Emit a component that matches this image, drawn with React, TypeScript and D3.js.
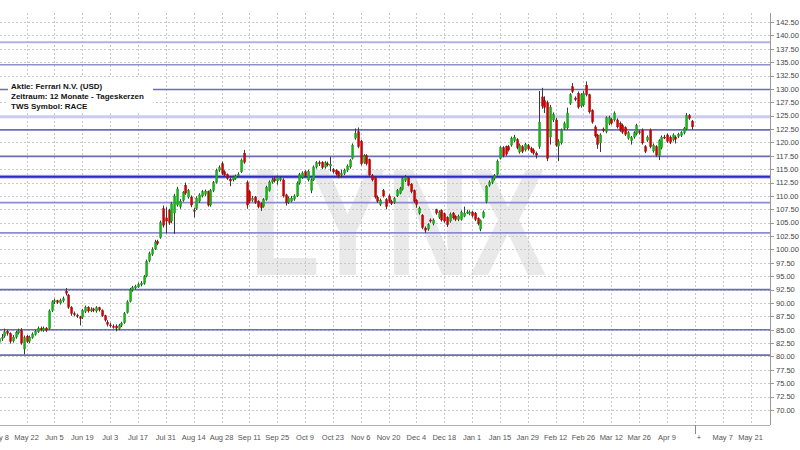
import React from 'react';
import * as d3 from 'd3';

const W = 800;
const H = 450;

// Daily candles (weekday index 0 = May 8, 2017)
const opens = [
  82.6, 83.3, 83.8, 84.7, 84.3, 82.9, 83.6, 84.4, 84.9, 81.4,
  83.8, 82.8, 83.5, 84.1, 84.6, 85.3, 84.9, 85.3, 85.2, 88.6,
  90.2, 90.4, 90.0, 90.4, 92.2, 91.5, 89.2, 88.0, 87.7, 87.4,
  87.3, 88.4, 89.2, 88.5, 88.9, 88.5, 89.1, 88.6, 87.6, 86.4,
  85.9, 85.6, 85.7, 85.2, 85.8, 86.3, 88.2, 90.3, 92.4, 92.8,
  93.0, 93.4, 93.6, 95.0, 97.9, 99.1, 100.1, 101.5, 102.2, 107.6,
  105.9, 107.3, 105.3, 106.8, 108.3, 108.0, 109.2, 112.0, 109.8, 109.8,
  107.3, 107.6, 109.0, 110.0, 110.3, 110.8, 108.3, 111.0, 112.5, 114.8,
  116.0, 114.5, 114.0, 113.1, 113.0, 113.2, 113.8, 114.5, 118.0, 112.5,
  110.8, 109.2, 109.8, 109.0, 108.6, 108.0, 109.3, 111.0, 112.6, 113.2,
  112.8, 113.0, 113.0, 110.2, 108.8, 109.0, 109.4, 110.0, 112.4, 113.5,
  114.5, 113.0, 111.0, 113.0, 115.4, 116.2, 116.3, 115.4, 116.0, 115.6,
  114.9, 114.8, 114.5, 113.9, 114.2, 114.8, 115.4, 117.0, 120.8, 122.0,
  120.2, 116.3, 117.5, 116.8, 113.8, 113.4, 109.8, 108.4, 111.0, 109.3,
  110.0, 109.0, 108.8, 110.0, 110.5, 111.2, 112.9, 113.4, 112.2, 111.0,
  109.2, 106.8, 106.4, 104.0, 103.8, 105.5, 104.8, 107.4, 106.0, 107.3,
  106.7, 106.0, 105.3, 106.8, 106.2, 105.6, 105.6, 106.2, 106.9, 106.7,
  107.0, 106.8, 105.8, 103.8, 106.0, 108.9, 112.0, 112.5, 113.2, 114.0,
  117.0, 119.0, 119.2, 119.2, 119.5, 120.3, 120.5, 118.2, 119.2, 118.6,
  119.4, 118.9, 118.6, 118.0, 119.2, 128.5, 127.8, 127.4, 121.0, 124.2,
  124.2, 119.3, 119.9, 122.6, 122.7, 127.3, 130.4, 128.3, 129.2, 126.8,
  127.0, 130.7, 128.9, 126.0, 122.9, 121.4, 119.9, 122.5, 122.0, 123.5,
  124.3, 124.2, 124.2, 123.6, 123.2, 122.8, 120.8, 120.3, 121.0, 121.6,
  122.0, 122.3, 119.2, 120.4, 122.3, 118.4, 119.2, 117.5, 119.0, 121.0,
  121.4, 121.0, 120.5, 121.0, 121.1, 121.3, 121.8, 122.5, 125.0, 124.0,
];
const closes = [
  83.4, 83.6, 84.6, 84.3, 82.8, 83.6, 84.5, 84.8, 82.5, 83.5,
  82.8, 83.6, 84.2, 84.7, 85.3, 85.0, 85.3, 84.9, 88.5, 90.2,
  90.4, 90.1, 90.5, 90.8, 91.8, 89.2, 88.0, 87.8, 87.6, 87.1,
  88.6, 89.2, 88.5, 88.8, 88.6, 89.1, 88.7, 87.6, 86.8, 86.0,
  85.8, 85.5, 85.3, 85.8, 86.2, 88.0, 90.2, 92.5, 92.9, 93.1,
  93.5, 93.7, 94.9, 97.8, 99.2, 100.0, 101.4, 101.1, 105.0, 104.5,
  105.3, 105.0, 108.5, 110.0, 111.3, 109.0, 110.6, 110.5, 111.0, 108.3,
  107.2, 109.6, 110.2, 110.8, 110.9, 108.3, 111.0, 112.5, 114.8, 115.3,
  114.2, 113.9, 113.3, 112.8, 113.5, 113.7, 114.0, 116.7, 116.3, 108.3,
  109.0, 109.5, 108.8, 108.0, 107.8, 109.3, 111.6, 112.6, 113.0, 112.8,
  113.4, 113.3, 110.0, 108.7, 109.6, 109.6, 110.0, 112.4, 114.0, 114.3,
  113.8, 114.6, 113.0, 115.4, 116.2, 116.0, 115.3, 116.2, 115.8, 115.9,
  114.5, 114.1, 113.6, 114.2, 114.8, 115.6, 116.6, 119.5, 121.7, 119.2,
  116.0, 117.5, 116.0, 113.9, 113.0, 109.8, 109.0, 109.2, 110.0, 108.0,
  109.0, 108.6, 109.5, 111.0, 111.4, 113.2, 113.5, 112.0, 110.8, 109.0,
  108.4, 107.7, 104.1, 103.6, 104.6, 105.3, 105.5, 106.8, 107.0, 105.5,
  105.3, 104.6, 106.6, 105.9, 105.6, 106.2, 107.0, 106.8, 107.0, 107.0,
  106.3, 105.6, 104.8, 105.4, 107.0, 111.8, 112.6, 113.2, 113.8, 116.5,
  119.0, 117.5, 117.8, 118.6, 120.8, 121.0, 119.0, 119.5, 118.3, 119.6,
  118.8, 118.3, 118.0, 117.6, 123.8, 126.8, 126.5, 117.0, 126.6, 125.2,
  119.5, 120.2, 122.3, 123.5, 125.5, 128.9, 129.5, 128.0, 126.6, 128.9,
  129.2, 128.9, 125.7, 123.8, 121.2, 119.6, 121.4, 122.2, 124.6, 124.6,
  123.6, 125.5, 122.9, 122.3, 121.9, 121.5, 121.8, 120.9, 121.8, 123.2,
  121.8, 119.9, 118.3, 121.0, 119.2, 119.5, 117.6, 120.3, 121.0, 120.9,
  120.2, 120.0, 121.4, 120.6, 121.5, 121.8, 122.6, 125.0, 124.5, 122.9,
];
const highs = [
  83.8, 84.2, 85.2, 85.0, 84.5, 84.0, 84.8, 85.2, 85.3, 83.9,
  84.0, 83.9, 84.5, 85.0, 85.6, 85.6, 85.6, 85.5, 88.8, 90.5,
  90.8, 90.6, 90.8, 91.2, 92.8, 91.7, 89.4, 88.4, 88.0, 87.6,
  88.9, 89.5, 89.4, 89.2, 89.1, 89.4, 89.3, 88.8, 87.8, 86.8,
  86.3, 86.0, 86.0, 86.1, 86.5, 88.3, 90.5, 92.8, 93.2, 93.4,
  93.8, 94.1, 95.2, 98.1, 99.6, 100.4, 101.8, 101.8, 105.4, 108.2,
  107.9, 107.6, 108.9, 110.4, 111.7, 109.4, 110.9, 112.5, 111.3, 110.1,
  107.8, 109.9, 110.5, 111.1, 111.2, 111.0, 111.3, 112.8, 115.1, 115.7,
  116.4, 114.8, 114.2, 113.4, 113.8, 114.0, 114.4, 117.0, 118.6, 112.9,
  111.1, 110.0, 110.0, 109.2, 108.8, 109.6, 111.9, 112.9, 113.4, 113.5,
  113.8, 113.7, 113.3, 110.4, 109.9, 110.0, 110.3, 112.7, 114.3, 114.6,
  114.8, 114.9, 113.3, 115.7, 116.5, 116.6, 116.5, 116.5, 116.4, 117.3,
  115.2, 115.0, 114.7, 114.9, 115.1, 115.9, 116.9, 119.8, 122.6, 122.8,
  120.5, 117.8, 117.8, 117.0, 114.1, 113.6, 110.1, 109.5, 111.3, 109.6,
  110.3, 109.3, 109.8, 111.3, 111.7, 113.5, 113.9, 113.6, 112.4, 111.2,
  109.4, 108.0, 106.6, 104.3, 104.9, 105.8, 105.8, 107.6, 107.3, 107.5,
  106.9, 106.2, 106.9, 107.0, 106.4, 106.5, 107.3, 108.0, 107.4, 107.3,
  107.2, 107.0, 106.0, 105.6, 107.3, 112.0, 112.9, 113.5, 114.1, 116.8,
  119.3, 119.3, 119.4, 119.5, 121.1, 121.4, 120.8, 119.8, 119.5, 119.9,
  119.7, 119.2, 118.9, 118.3, 129.6, 130.2, 128.6, 127.8, 127.0, 125.6,
  124.6, 120.6, 122.6, 123.9, 126.5, 129.2, 131.1, 128.6, 129.5, 129.2,
  129.6, 131.4, 129.1, 126.2, 123.2, 121.6, 121.7, 122.8, 124.9, 125.0,
  124.6, 125.8, 124.5, 123.9, 123.5, 123.0, 122.1, 121.2, 122.1, 123.5,
  122.3, 122.6, 119.5, 121.3, 122.6, 119.8, 119.5, 120.6, 121.3, 121.4,
  121.7, 121.3, 121.7, 121.3, 121.8, 122.1, 122.9, 125.5, 125.3, 124.2,
];
const lows = [
  82.2, 82.9, 83.5, 83.9, 82.4, 82.6, 83.3, 84.1, 82.2, 80.4,
  82.5, 82.5, 83.3, 83.9, 84.4, 84.7, 84.6, 84.6, 85.0, 88.3,
  89.8, 89.8, 89.7, 90.1, 91.4, 88.9, 87.6, 87.5, 87.2, 85.8,
  87.0, 88.1, 88.2, 88.3, 88.3, 88.2, 88.4, 87.4, 86.5, 85.6,
  85.4, 85.2, 84.7, 84.9, 85.5, 86.1, 88.0, 90.1, 92.1, 92.5,
  92.8, 93.1, 93.4, 94.8, 97.6, 98.8, 99.9, 100.8, 102.0, 104.1,
  103.0, 104.6, 104.9, 102.9, 108.0, 107.6, 108.9, 110.2, 109.5, 107.9,
  106.0, 107.4, 108.7, 109.7, 110.0, 108.0, 108.0, 110.7, 112.3, 114.5,
  113.9, 113.6, 113.0, 111.8, 112.7, 113.0, 113.5, 114.3, 116.0, 107.6,
  108.6, 108.9, 108.5, 107.7, 107.2, 107.8, 109.1, 110.8, 112.3, 112.5,
  112.1, 112.7, 109.7, 108.2, 108.5, 108.8, 109.1, 109.8, 112.1, 113.2,
  113.5, 112.7, 110.5, 112.8, 115.1, 115.6, 115.0, 115.1, 115.5, 114.6,
  114.2, 113.8, 113.3, 113.4, 113.9, 114.5, 115.1, 116.8, 120.5, 118.9,
  115.7, 116.0, 115.7, 113.6, 112.7, 109.5, 108.7, 108.1, 109.7, 107.5,
  108.7, 108.3, 108.5, 109.8, 110.3, 111.0, 112.6, 111.8, 110.5, 108.7,
  107.8, 106.5, 103.8, 103.1, 103.5, 105.0, 104.5, 106.5, 105.7, 105.2,
  105.0, 104.2, 105.0, 105.6, 105.3, 105.3, 105.4, 106.0, 106.6, 106.4,
  106.0, 105.3, 104.5, 103.4, 105.8, 108.6, 111.7, 112.2, 112.9, 113.8,
  116.8, 117.2, 117.5, 118.3, 119.2, 120.0, 118.7, 117.9, 118.0, 118.3,
  118.5, 118.0, 117.7, 117.0, 118.8, 126.3, 125.5, 116.5, 119.6, 123.8,
  119.2, 116.5, 119.6, 122.3, 122.4, 127.0, 129.2, 127.7, 126.3, 126.5,
  126.7, 128.6, 125.4, 123.5, 120.9, 118.8, 118.2, 121.9, 121.7, 123.2,
  123.3, 123.9, 122.6, 122.0, 121.6, 121.2, 120.5, 119.6, 120.7, 121.3,
  121.5, 119.6, 118.0, 120.1, 118.9, 118.1, 117.3, 116.7, 118.7, 120.6,
  119.9, 119.7, 120.2, 119.8, 120.8, 121.0, 121.5, 122.3, 124.2, 122.4,
];

const xTickLabels = [
  'May 8', 'May 22', 'Jun 5', 'Jun 19', 'Jul 3', 'Jul 17', 'Jul 31', 'Aug 14',
  'Aug 28', 'Sep 11', 'Sep 25', 'Oct 9', 'Oct 23', 'Nov 6', 'Nov 20', 'Dec 4',
  'Dec 18', 'Jan 1', 'Jan 15', 'Jan 29', 'Feb 12', 'Feb 26', 'Mar 12', 'Mar 26',
  'Apr 9', '+', 'May 7', 'May 21',
];
const yTickValues = [
  70, 72.5, 75, 77.5, 80, 82.5, 85, 87.5, 90, 92.5, 95, 97.5, 100, 102.5, 105,
  107.5, 110, 112.5, 115, 117.5, 120, 122.5, 125, 127.5, 130, 132.5, 135, 137.5,
  140, 142.5,
];
const levelValues = [138.7, 134.5, 129.9, 124.8, 122.35, 117.4, 113.6, 108.75, 103.1, 92.5, 85, 80.25];
const levelKinds = ['light', 'pale', 'mid', 'lightThick', 'mid', 'mid', 'dark', 'soft', 'soft', 'mid', 'mid', 'mid'];

const legendLines = [
  'Aktie: Ferrari N.V. (USD)',
  'Zeitraum: 12 Monate - Tageskerzen',
  'TWS Symbol: RACE',
];

const FONT = 'Liberation Sans, Arial, Helvetica, sans-serif';

const levelStyle: Record<string, { stroke: string; w: number }> = {
  light: { stroke: '#b2b2e2', w: 2 },
  pale: { stroke: '#9090cc', w: 1.6 },
  mid: { stroke: '#6c6cba', w: 1.6 },
  lightThick: { stroke: '#cbcbf2', w: 3 },
  dark: { stroke: '#2c2cbc', w: 2 },
  soft: { stroke: '#8c8cd4', w: 1.6 },
};

export default function App() {
  const plotTop = 13;
  const plotBottom = 425;
  const axisX = 770;
  const daysPerTick = 10;
  const nDomain = 277;

  const x = d3.scaleLinear().domain([0, nDomain]).range([-1.2, axisX]);
  const y = d3.scaleLinear().domain([70, 142.5]).range([410, 22]);

  const candles = d3.range(closes.length).map((i) => ({
    i,
    o: opens[i],
    h: highs[i],
    l: lows[i],
    c: closes[i],
  }));

  const px = (v: number) => Math.round(v) + 0.5;

  return (
    <div style={{ position: 'fixed', left: 0, top: 0, width: W, height: H, background: '#fff' }}>
      <svg width={W} height={H} style={{ display: 'block' }} fontFamily={FONT}>
        <rect x={0} y={0} width={W} height={H} fill="#ffffff" />

        {/* watermark */}
        <text
          x={x(90)}
          y={y(95.2)}
          fontSize={152}
          fontWeight="bold"
          fill="#e9e9e9"
          textLength={297}
          lengthAdjust="spacingAndGlyphs"
          fontFamily="Liberation Sans, Arial, sans-serif"
        >
          LYNX
        </text>

        {/* horizontal dotted grid */}
        {yTickValues.map((v) => (
          <line
            key={'hg' + v}
            x1={0}
            x2={axisX}
            y1={px(y(v))}
            y2={px(y(v))}
            stroke="#c8c8c8"
            strokeWidth={1}
            strokeDasharray="2,2"
          />
        ))}
        {/* vertical dotted grid */}
        {xTickLabels.map((t, k) => {
          const xx = px(x(k * daysPerTick));
          if (xx < 1) return null;
          return (
            <line
              key={'vg' + k}
              x1={xx}
              x2={xx}
              y1={plotTop}
              y2={plotBottom}
              stroke="#c8c8c8"
              strokeWidth={1}
              strokeDasharray="2,2"
            />
          );
        })}

        {/* horizontal support / resistance levels */}
        {levelValues.map((v, k) => {
          const s = levelStyle[levelKinds[k]];
          const yy = y(v);
          return (
            <g key={'lv' + k}>
              {levelKinds[k] === 'dark' && (
                <line x1={0} x2={axisX} y1={yy} y2={yy} stroke="#b8b8ee" strokeWidth={4} />
              )}
              <line x1={0} x2={axisX} y1={yy} y2={yy} stroke={s.stroke} strokeWidth={s.w} />
            </g>
          );
        })}

        {/* legend box */}
        <rect x={8} y={77} width={145} height={36} fill="#ffffff" />
        {legendLines.map((t, k) => (
          <text key={'lg' + k} x={11} y={89 + k * 10} fontSize={8} fontWeight="bold" fill="#111">
            {t}
          </text>
        ))}

        {/* candles */}
        {candles.map((d) => {
          const cx = Math.round(x(d.i));
          const up = d.c >= d.o;
          const top = y(Math.max(d.o, d.c));
          const bot = y(Math.min(d.o, d.c));
          const bh = Math.max(1, bot - top);
          return (
            <g key={'c' + d.i}>
              <line x1={cx + 0.5} x2={cx + 0.5} y1={y(d.h)} y2={y(d.l)} stroke="#3a3a3a" strokeWidth={1} />
              <rect
                x={cx - 0.5}
                y={top}
                width={2.2}
                height={bh}
                fill={up ? '#19b319' : '#d00000'}
                stroke={up ? '#108a10' : '#9a0000'}
                strokeWidth={0.3}
              />
            </g>
          );
        })}

        {/* right axis */}
        <line x1={axisX + 0.5} x2={axisX + 0.5} y1={plotTop} y2={plotBottom} stroke="#9a9a9a" />
        {yTickValues.map((v) => (
          <g key={'yt' + v}>
            <line x1={axisX} x2={axisX + 4} y1={px(y(v))} y2={px(y(v))} stroke="#9a9a9a" />
            <text x={axisX + 6} y={y(v) + 2.8} fontSize={7.5} fill="#444">
              {v.toFixed(2)}
            </text>
          </g>
        ))}

        {/* bottom axis */}
        <line x1={0} x2={axisX} y1={plotBottom + 0.5} y2={plotBottom + 0.5} stroke="#b0b0b0" />
        {xTickLabels.map((t, k) => {
          const xx = x(k * daysPerTick);
          const isNow = t === '+';
          return (
            <g key={'xt' + k}>
              {isNow && (
                <line x1={px(xx)} x2={px(xx)} y1={plotBottom} y2={plotBottom + 9} stroke="#888" />
              )}
              <text
                x={isNow ? xx + 4 : xx}
                y={plotBottom + 15}
                fontSize={7.5}
                fill="#555"
                textAnchor="middle"
              >
                {t}
              </text>
            </g>
          );
        })}
      </svg>
    </div>
  );
}
